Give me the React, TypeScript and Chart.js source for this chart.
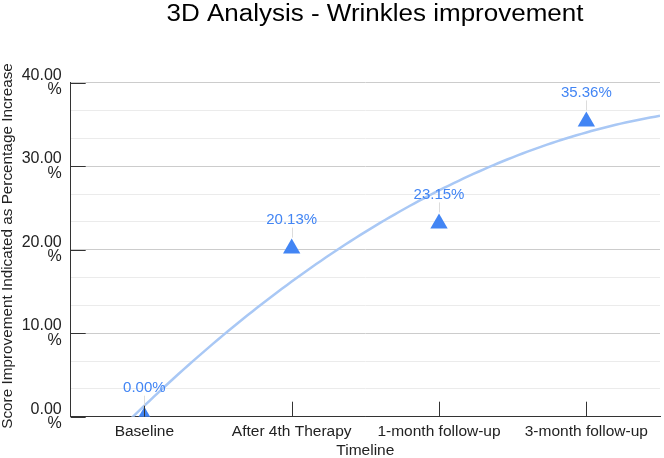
import React, { useEffect, useRef } from 'react';
import { Chart, registerables } from 'chart.js';

Chart.register(...registerables);

const TITLE = '3D Analysis - Wrinkles improvement';
const X_TITLE = 'Timeline';
const Y_TITLE = 'Score Improvement Indicated as Percentage Increase';

const categories = ['Baseline', 'After 4th Therapy', '1-month follow-up', '3-month follow-up'];
const improvement = [0, 20.13, 23.15, 35.36];
const yMajorTicks = [0, 10, 20, 30, 40];
const minorPerMajor = 3;

const FONT = '"Liberation Sans", Arial, Helvetica, sans-serif';
const BLUE = '#4285f4';
const TREND = '#a9c8f5';
const AXIS = '#333333';

// least-squares quadratic trendline (as the original chart's polynomial trendline)
function quadFit(ys: number[]) {
  const n = ys.length;
  const s = [0, 0, 0, 0, 0];
  const t = [0, 0, 0];
  for (let i = 0; i < n; i++) {
    for (let k = 0; k < 5; k++) s[k] += Math.pow(i, k);
    for (let k = 0; k < 3; k++) t[k] += ys[i] * Math.pow(i, k);
  }
  const M = [
    [s[0], s[1], s[2], t[0]],
    [s[1], s[2], s[3], t[1]],
    [s[2], s[3], s[4], t[2]],
  ];
  for (let c = 0; c < 3; c++) {
    for (let r = c + 1; r < 3; r++) {
      const f = M[r][c] / M[c][c];
      for (let k = c; k < 4; k++) M[r][k] -= f * M[c][k];
    }
  }
  const coef = [0, 0, 0];
  for (let r = 2; r >= 0; r--) {
    let v = M[r][3];
    for (let k = r + 1; k < 3; k++) v -= M[r][k] * coef[k];
    coef[r] = v / M[r][r];
  }
  return (x: number) => coef[0] + coef[1] * x + coef[2] * x * x;
}

function buildYTicks() {
  const out: number[] = [];
  for (let i = 0; i < yMajorTicks.length; i++) {
    out.push(yMajorTicks[i]);
    if (i < yMajorTicks.length - 1) {
      const step = (yMajorTicks[i + 1] - yMajorTicks[i]) / minorPerMajor;
      for (let k = 1; k < minorPerMajor; k++) out.push(yMajorTicks[i] + step * k);
    }
  }
  return out;
}

const isMajor = (v: number) => yMajorTicks.some((m) => Math.abs(m - v) < 1e-6);

export default function App() {
  const ref = useRef<HTMLCanvasElement | null>(null);

  useEffect(() => {
    if (!ref.current) return;
    const f = quadFit(improvement);
    const trend: { x: number; y: number }[] = [];
    const lo = -0.5;
    const hi = categories.length - 0.5;
    const N = 120;
    for (let i = 0; i <= N; i++) {
      const x = lo + ((hi - lo) * i) / N;
      trend.push({ x, y: f(x) });
    }

    const decor = {
      id: 'decor',
      afterDatasetsDraw(chart: any) {
        const { ctx, chartArea } = chart;
        const xs = chart.scales.x;
        const ys = chart.scales.y;
        ctx.save();
        // inner tick marks
        ctx.strokeStyle = AXIS;
        ctx.lineWidth = 1;
        ctx.beginPath();
        yMajorTicks.forEach((v) => {
          const py = Math.round(ys.getPixelForValue(v)) + 0.5;
          ctx.moveTo(chartArea.left, py);
          ctx.lineTo(chartArea.left + 15, py);
        });
        categories.forEach((_, i) => {
          const px = Math.round(xs.getPixelForValue(i)) + 0.5;
          ctx.moveTo(px, chartArea.bottom);
          ctx.lineTo(px, chartArea.bottom - 15);
        });
        ctx.stroke();

        // data labels with leader lines
        const meta = chart.getDatasetMeta(1);
        ctx.font = `15px ${FONT}`;
        ctx.textAlign = 'center';
        ctx.textBaseline = 'middle';
        meta.data.forEach((el: any, i: number) => {
          const px = el.x;
          const py = el.y;
          ctx.strokeStyle = '#dcdcdc';
          ctx.beginPath();
          ctx.moveTo(Math.round(px) + 0.5, py - 21);
          ctx.lineTo(Math.round(px) + 0.5, py - 11);
          ctx.stroke();
          ctx.fillStyle = BLUE;
          ctx.fillText(improvement[i].toFixed(2) + '%', px, py - 28.5);
        });

        // y axis title
        ctx.save();
        ctx.translate(7.5, 246);
        ctx.rotate(-Math.PI / 2);
        ctx.fillStyle = '#222222';
        ctx.font = `15.3px ${FONT}`;
        ctx.textAlign = 'center';
        ctx.textBaseline = 'middle';
        ctx.fillText(Y_TITLE, 0, 0);
        ctx.restore();

        // chart title
        ctx.save();
        ctx.translate(375, 21);
        ctx.scale(1.13, 1);
        ctx.fillStyle = '#000000';
        ctx.font = `23px ${FONT}`;
        ctx.textAlign = 'center';
        ctx.textBaseline = 'alphabetic';
        ctx.fillText(TITLE, 0, 0);
        ctx.restore();
        ctx.restore();
      },
    };

    const chart = new Chart(ref.current, {
      type: 'line',
      data: {
        labels: categories,
        datasets: [
          {
            label: 'Trendline',
            data: trend as any,
            xAxisID: 'xt',
            yAxisID: 'y',
            borderColor: TREND,
            borderWidth: 2.5,
            pointRadius: 0,
            tension: 0,
            fill: false,
            clip: 0 as any,
            order: 2,
          },
          {
            label: 'Improvement',
            data: improvement,
            xAxisID: 'x',
            yAxisID: 'y',
            showLine: false,
            pointStyle: 'triangle',
            pointRadius: 10,
            pointHoverRadius: 10,
            pointBackgroundColor: BLUE,
            pointBorderWidth: 0,
            borderWidth: 0,
            clip: 0 as any,
            order: 1,
          },
        ],
      },
      options: {
        animation: false,
        responsive: false,
        maintainAspectRatio: false,
        events: [],
        layout: { autoPadding: false, padding: { top: 82.7, right: 4, left: 0, bottom: 0 } },
        plugins: {
          legend: { display: false },
          title: { display: false },
          tooltip: { enabled: false },
        },
        scales: {
          x: {
            type: 'category',
            offset: true,
            grid: { display: false, drawTicks: false },
            border: { display: true, color: AXIS, width: 1 },
            ticks: {
              padding: 6,
              color: '#222222',
              font: { family: FONT, size: 15.5 },
              maxRotation: 0,
              autoSkip: false,
            },
            title: {
              display: true,
              text: X_TITLE,
              color: '#222222',
              font: { family: FONT, size: 15.5, lineHeight: 1 },
              padding: 0,
            },
            afterFit(scale: any) {
              scale.height = 41.3;
            },
          },
          xt: {
            type: 'linear',
            display: false,
            min: -0.5,
            max: categories.length - 0.5,
          },
          y: {
            type: 'linear',
            min: yMajorTicks[0],
            max: yMajorTicks[yMajorTicks.length - 1],
            afterBuildTicks(scale: any) {
              scale.ticks = buildYTicks().map((v) => ({ value: v }));
            },
            grid: {
              drawTicks: false,
              color: (c: any) =>
                c.tick && Math.abs(c.tick.value) < 1e-6 ? AXIS : isMajor(c.tick ? c.tick.value : 0) ? '#cccccc' : '#ebebeb',
              lineWidth: 1,
            },
            border: { display: true, color: AXIS, width: 1 },
            ticks: {
              autoSkip: false,
              padding: 9,
              color: '#222222',
              font: { family: FONT, size: 16, lineHeight: 0.9 },
              callback: (v: any) => (isMajor(Number(v)) ? [Number(v).toFixed(2), '%'] : ''),
            },
            title: { display: false },
            afterFit(scale: any) {
              scale.width = 70.7;
            },
          },
        },
      },
      plugins: [decor],
    });
    return () => chart.destroy();
  }, []);

  return (
    <div style={{ position: 'fixed', left: 0, top: 0, width: 664, height: 458, background: '#ffffff' }}>
      <canvas ref={ref} width={664} height={458} style={{ display: 'block', width: 664, height: 458 }} />
    </div>
  );
}
